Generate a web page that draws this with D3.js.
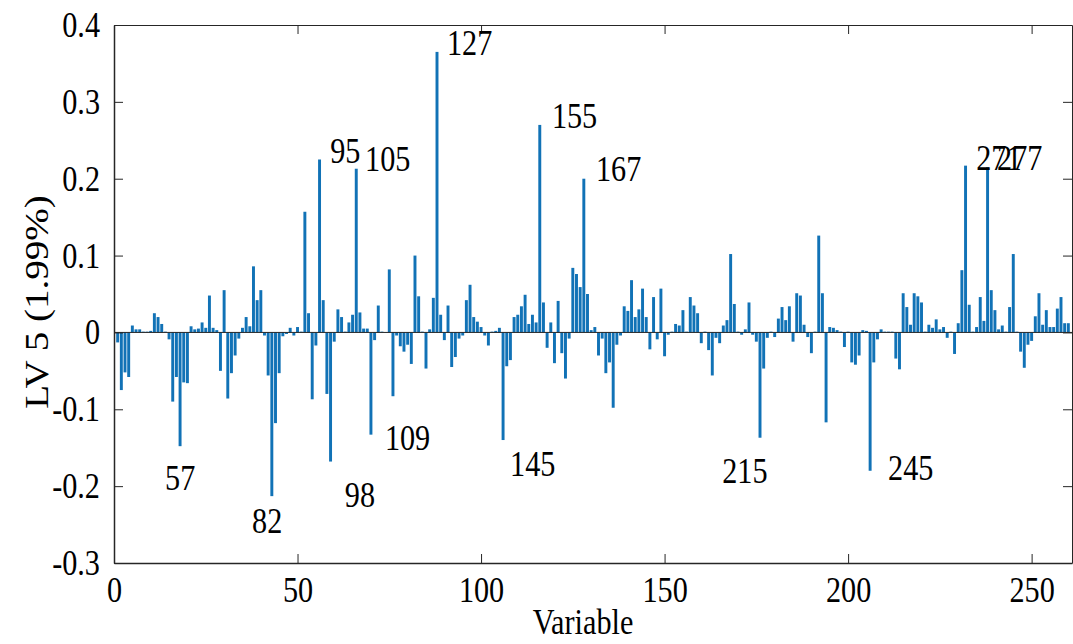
<!DOCTYPE html>
<html><head><meta charset="utf-8">
<script src="https://cdn.jsdelivr.net/npm/d3@7"></script>
<style>body{margin:0;background:#fff}svg{display:block}</style>
</head><body>
<svg id="c" width="1073" height="644"></svg>
<script>
// LV 5 loadings, variables 1..260
const values = [
-0.013,-0.075,-0.052,-0.058,0.009,0.004,0.004,0.001,0.001,0.002,
0.025,0.02,0.011,0.001,-0.009,-0.09,-0.058,-0.148,-0.065,-0.066,
0.008,0.004,0.005,0.013,0.006,0.048,0.006,0.003,-0.05,0.055,
-0.086,-0.053,-0.03,-0.008,0.006,0.02,0.008,0.086,0.042,0.055,
-0.004,-0.056,-0.213,-0.118,-0.053,-0.005,-0.002,0.006,-0.004,0.007,
0.001,0.157,0.025,-0.087,-0.017,0.225,0.042,-0.08,-0.168,-0.012,
0.03,0.02,0.001,0.013,0.023,0.213,0.026,0.005,0.005,-0.133,
-0.01,0.035,0.001,0.0005,0.082,-0.083,-0.004,-0.018,-0.025,-0.016,
-0.041,0.1,0.047,0.001,-0.047,0.004,0.045,0.365,0.023,-0.01,
0.035,-0.045,-0.032,-0.008,-0.004,0.042,0.062,0.02,0.014,0.007,
-0.004,-0.017,0.001,0.002,0.006,-0.14,-0.044,-0.036,0.02,0.023,
0.034,0.049,0.011,0.023,0.013,0.27,0.039,-0.02,0.013,-0.04,
0.041,-0.027,-0.06,-0.008,0.084,0.076,0.059,0.2,0.05,0.003,
0.007,-0.03,-0.008,-0.053,-0.039,-0.098,-0.016,-0.004,0.034,0.028,
0.068,0.02,0.03,0.057,0.02,-0.022,0.046,-0.009,0.057,-0.031,
-0.003,0.001,0.011,0.009,0.029,0.001,0.046,0.035,0.025,-0.014,
0.001,-0.023,-0.056,-0.007,-0.014,0.009,0.016,0.102,0.037,0.001,
-0.003,0.004,0.039,-0.003,-0.012,-0.137,-0.047,-0.007,0.001,-0.006,
0.018,0.033,0.016,0.034,-0.012,0.051,0.048,0.01,-0.006,-0.027,
0.001,0.126,0.051,-0.117,0.007,0.006,0.003,0.001,-0.019,0.001,
-0.039,-0.042,-0.03,0.003,0.002,-0.18,-0.039,-0.009,0.004,0.001,
0.001,0.001,-0.034,-0.048,0.051,0.033,0.01,0.051,0.047,0.039,
0.001,0.01,0.006,0.017,0.004,0.007,-0.007,0.001,-0.028,0.012,
0.081,0.217,0.036,0.001,0.007,0.046,0.015,0.215,0.055,0.029,
0.004,0.009,0.001,0.033,0.102,0.001,-0.025,-0.046,-0.016,-0.011,
0.021,0.051,0.01,0.029,0.007,0.007,0.031,0.046,0.012,0.012
];
const variables = values.map((v, i) => i + 1);
const xTicks = [0, 50, 100, 150, 200, 250];
const xTickLabels = ["0", "50", "100", "150", "200", "250"];
const yTicks = [-0.3, -0.2, -0.1, 0, 0.1, 0.2, 0.3, 0.4];
const yTickLabels = ["-0.3", "-0.2", "-0.1", "0", "0.1", "0.2", "0.3", "0.4"];
const labelBars = [18, 43, 56, 59, 66, 70, 88, 106, 116, 128, 176, 206, 232, 238];
const labelTexts = ["57", "82", "95", "98", "105", "109", "127", "145", "155", "167", "215", "245", "271", "277"];
const xLabel = "Variable";
const yLabel = "LV 5 (1.99%)";

// layout (label placement relative to bars, in data units)
const labelDx = [-4.1, -5.4, 2.9, 3.9, 2.4, 3.8, 2.7, 1.9, 3.3, 3.3, -10.3, 4.9, 2.9, 2.6];
const labelYc = [-0.189, -0.245, 0.237, -0.211, 0.226, -0.137, 0.378, -0.170, 0.283, 0.213, -0.18, -0.176, 0.228, 0.228];

const W = 1073, H = 644;
const L = 114, R = 1072, T = 25, B = 563;
const FONT = "'Liberation Serif','Times New Roman',serif";
const FS = 36, K = 0.84;
const axisColor = "#262626";
const barColor = "#1172b6";

const svg = d3.select("#c");
svg.append("rect").attr("width", W).attr("height", H).attr("fill", "#fff");

const x = d3.scaleLinear().domain([0, 261]).range([L, R]);
const y = d3.scaleLinear().domain([-0.3, 0.4]).range([B, T]);
const bw = x(0.8) - x(0);

// bars
svg.append("g").selectAll("rect").data(values).join("rect")
  .attr("x", (d, i) => x(variables[i]) - bw / 2)
  .attr("width", bw)
  .attr("y", d => y(Math.max(0, d)))
  .attr("height", d => Math.abs(y(d) - y(0)))
  .attr("fill", barColor);

// baseline
svg.append("line").attr("x1", x(0)).attr("x2", x(261)).attr("y1", y(0)).attr("y2", y(0))
  .attr("stroke", axisColor).attr("stroke-width", 1);

function styleAxis(g) {
  g.selectAll("path").attr("stroke", axisColor);
  g.selectAll("line").attr("stroke", axisColor);
  g.selectAll("text").attr("fill", "#000").style("font-family", FONT).style("font-size", FS + "px");
}

const gx = svg.append("g").attr("transform", `translate(0,${B})`)
  .call(d3.axisBottom(x).tickValues(xTicks).tickFormat((d, i) => xTickLabels[i])
    .tickSizeInner(-9).tickSizeOuter(0).tickPadding(13));
styleAxis(gx);
gx.select("path").attr("stroke-width", 1.5);
gx.selectAll("text").attr("transform", `scale(${K},1)`);

const gy = svg.append("g").attr("transform", `translate(${L},0)`)
  .call(d3.axisLeft(y).tickValues(yTicks).tickFormat((d, i) => yTickLabels[i])
    .tickSizeInner(-9).tickSizeOuter(0).tickPadding(14));
styleAxis(gy);
gy.select("path").attr("stroke-width", 1.5);
gy.selectAll("text").attr("x", -14 / K).attr("transform", `scale(${K},1)`);

const gt = svg.append("g").attr("transform", `translate(0,${T})`)
  .call(d3.axisTop(x).tickValues(xTicks).tickFormat("").tickSizeInner(-9).tickSizeOuter(0));
styleAxis(gt);
const gr = svg.append("g").attr("transform", `translate(${R},0)`)
  .call(d3.axisRight(y).tickValues(yTicks).tickFormat("").tickSizeInner(-9).tickSizeOuter(0));
styleAxis(gr);

// axis titles
svg.append("g").attr("transform", `translate(${(L + R) / 2 - 10},634)`)
  .append("text").attr("transform", `scale(${K},1)`).attr("text-anchor", "middle")
  .style("font-family", FONT).style("font-size", FS + "px").text(xLabel);

svg.append("g").attr("transform", `translate(37,${(T + B) / 2 + 8}) rotate(-90) scale(1,${K})`)
  .append("text").attr("text-anchor", "middle").attr("dy", "0.33em")
  .style("font-family", FONT).style("font-size", (FS + 3) + "px").text(yLabel);

// bar annotations
const ann = svg.append("g");
labelBars.forEach((b, i) => {
  ann.append("g").attr("transform", `translate(${x(b + labelDx[i])},${y(labelYc[i])})`)
    .append("text").attr("transform", `scale(${K},1)`).attr("dy", "0.35em")
    .style("font-family", FONT).style("font-size", FS + "px").attr("fill", "#000")
    .text(labelTexts[i]);
});
</script>
</body></html>
